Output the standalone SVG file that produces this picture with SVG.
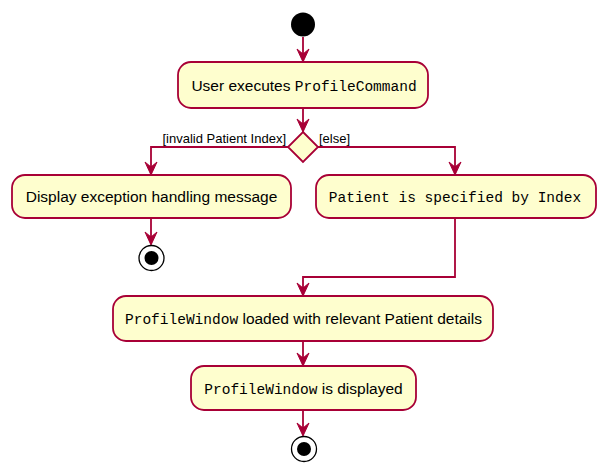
<svg xmlns="http://www.w3.org/2000/svg" width="607" height="475" viewBox="0 0 607 475">
<defs>
<style>
.act{fill:#FEFECE;stroke:#A80036;stroke-width:1.8}
.ln{fill:none;stroke:#A80036;stroke-width:1.8}
.ah{fill:#A80036;stroke:#A80036;stroke-width:1}
.t{font-family:"Liberation Sans",Arial,sans-serif;font-size:15.5px;fill:#000}
.m{font-family:"Liberation Mono","Courier New",monospace;font-size:14.5px}
.lbl{font-family:"Liberation Sans",Arial,sans-serif;font-size:13px;fill:#000}
</style>
</defs>
<rect width="607" height="475" fill="#FFFFFF"/>
<g id="connectors">
<path class="ln" d="M303,37 L303,61"/>
<polygon class="ah" points="297,49 303,62 309,49 303,54"/>
<path class="ln" d="M303,108 L303,131"/>
<polygon class="ah" points="297,119 303,132 309,119 303,124"/>
<path class="ln" d="M288,147 L151,147 L151,174"/>
<polygon class="ah" points="145,162 151,175 157,162 151,167"/>
<path class="ln" d="M318,147 L455,147 L455,174"/>
<polygon class="ah" points="449,162 455,175 461,162 455,167"/>
<path class="ln" d="M151,218 L151,244"/>
<polygon class="ah" points="145,232 151,245 157,232 151,237"/>
<path class="ln" d="M455,218 L455,277 L303,277 L303,295"/>
<polygon class="ah" points="297,283 303,296 309,283 303,288"/>
<path class="ln" d="M303,341 L303,365"/>
<polygon class="ah" points="297,353 303,366 309,353 303,358"/>
<path class="ln" d="M303,410 L303,435"/>
<polygon class="ah" points="297,423 303,436 309,423 303,428"/>
<text class="lbl" x="286" y="143" text-anchor="end">[invalid Patient Index]</text>
<text class="lbl" x="319" y="143">[else]</text>
</g>
<g id="start">
<circle cx="303" cy="24.5" r="12" fill="#000"/>
</g>
<g id="userExecutes">
<rect class="act" x="178" y="62" width="250" height="46" rx="13"/>
<text class="t" x="304" y="91" text-anchor="middle">User executes <tspan class="m">ProfileCommand</tspan></text>
</g>
<g id="decision">
<polygon class="act" points="303,132 318,147 303,162 288,147"/>
</g>
<g id="displayException">
<rect class="act" x="12" y="175" width="279" height="43" rx="13"/>
<text class="t" x="151.5" y="202" text-anchor="middle">Display exception handling message</text>
</g>
<g id="endLeft">
<circle cx="151.5" cy="258" r="12.5" fill="#FFFFFF" stroke="#000" stroke-width="1.3"/>
<circle cx="151.5" cy="258" r="7" fill="#000"/>
</g>
<g id="patientSpecified">
<rect class="act" x="316" y="175" width="280" height="43" rx="13"/>
<text class="t m" x="455" y="202" text-anchor="middle">Patient is specified by Index</text>
</g>
<g id="profileLoaded">
<rect class="act" x="113" y="296" width="380" height="45" rx="13"/>
<text class="t" x="303.5" y="324" text-anchor="middle"><tspan class="m">ProfileWindow</tspan> loaded with relevant Patient details</text>
</g>
<g id="profileDisplayed">
<rect class="act" x="191" y="366" width="225" height="44" rx="13"/>
<text class="t" x="303.5" y="394" text-anchor="middle"><tspan class="m">ProfileWindow</tspan> is displayed</text>
</g>
<g id="endBottom">
<circle cx="304" cy="449" r="12.5" fill="#FFFFFF" stroke="#000" stroke-width="1.3"/>
<circle cx="304" cy="449" r="7" fill="#000"/>
</g>
</svg>
